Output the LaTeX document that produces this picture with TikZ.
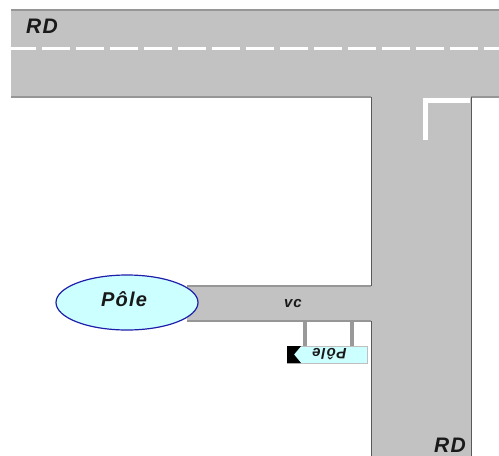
\documentclass[tikz,border=0pt]{standalone}
\usepackage{fontspec}
\setmainfont{Liberation Sans}
\usetikzlibrary{shapes.geometric}
\definecolor{road}{RGB}{194,194,194}
\definecolor{roadedge}{RGB}{150,150,150}
\definecolor{pale}{RGB}{204,255,255}
\definecolor{bluedge}{RGB}{30,30,170}
\newcommand{\lblfont}[1]{\fontsize{#1}{#1}\selectfont\bfseries\itshape\addfontfeature{LetterSpace=6}}
\tikzset{
  x=1pt,y=-1pt,
  roadfill/.style={fill=road,draw=none},
  edgesoft/.style={draw=roadedge,line width=1.3pt},
  edgedark/.style={draw=black!65,line width=1pt},
  marking/.style={draw=white,line width=2.5pt},
  lbl/.style={inner sep=0pt,text=black!90},
  post/.style={draw=black!40,line width=3.5pt},
}
\begin{document}
\begin{tikzpicture}
\useasboundingbox (0,0) rectangle (499,456);
% roads
\fill[roadfill] (11,10) rectangle (499,97);
\fill[roadfill] (371,97) rectangle (471,456);
\fill[roadfill] (187,286) rectangle (371,321);
% edges
\draw[edgesoft] (11,10) -- (499,10);
\draw[edgesoft] (11,97) -- (371,97);
\draw[edgesoft] (471,97) -- (499,97);
\draw[edgesoft] (187,286) -- (371,286);
\draw[edgesoft] (187,321) -- (371,321);
\draw[edgedark] (371,97) -- (371,286);
\draw[edgedark] (371,321) -- (371,456);
\draw[edgedark] (471,97) -- (471,456);
% centre line
\draw[marking,dash pattern=on 28pt off 6pt,dash phase=3pt] (11,48.5) -- (499,48.5);
% stop line
\draw[marking,line width=5pt] (425,140) -- (425,100) -- (470,100);
% pole
\node[ellipse,draw=bluedge,fill=pale,line width=1.2pt,minimum width=142pt,minimum height=55pt,inner sep=0pt] (pole) at (127,302.5) {};
\node[lbl,font=\lblfont{20}] (poletext) at (124,299) {Pôle};
% labels
\node[lbl,font=\lblfont{21}] (rd1) at (42,26) {RD};
\node[lbl,font=\lblfont{21}] (rd2) at (450,445.5) {RD};
\node[lbl,font=\lblfont{15}] (vc) at (293,304) {vc};
% sign
\coordinate (p1top) at (305,322);
\coordinate (p2top) at (352,322);
\node[fill=pale,draw=black!25,line width=.4pt,minimum width=80pt,minimum height=17pt,inner sep=0pt,anchor=north west] (sign) at (287,346) {};
\draw[post] (p1top) -- (305,346);
\draw[post] (p2top) -- (352,346);
\fill[black] (287,346) -- (301,346) -- (294,354.5) -- (301,363) -- (287,363) -- cycle;
\node[lbl,rotate=180,font=\lblfont{15}] (signtext) at (329.5,354.5) {Pôle};
\end{tikzpicture}
\end{document}
